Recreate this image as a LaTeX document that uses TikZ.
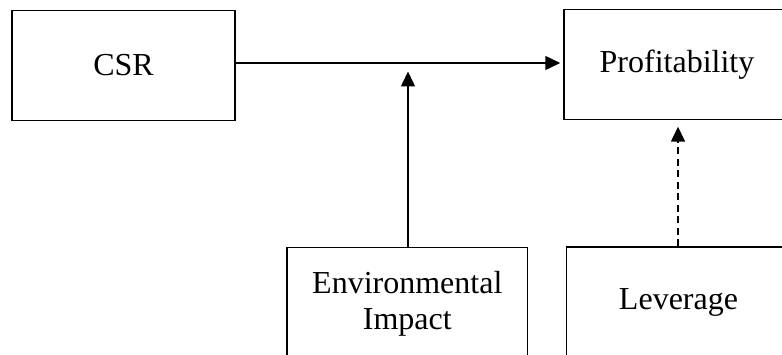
\documentclass[tikz,border=0pt]{standalone}
\usepackage{fontspec}
\setmainfont{Liberation Serif}
\usetikzlibrary{arrows.meta}
\tikzset{
  box/.style={draw, line width=1.5pt, rectangle, minimum width=#1, minimum height=110pt, inner sep=0pt, align=center, font=\fontsize{32}{36}\selectfont},
  conn/.style={line width=1.5pt, -{Triangle[length=15pt,width=14pt]}},
  dashconn/.style={conn, dash pattern=on 7pt off 4.5pt}
}
\begin{document}
\begin{tikzpicture}[x=1pt,y=-1pt]
\useasboundingbox (0,0) rectangle (782,355);
\clip (0,0) rectangle (782,355);
\node[box=223pt] (csr) at (123.5,65.5) {CSR};
\node[box=226pt] (prof) at (677,64.5) {Profitability};
\node[box=240.5pt, minimum height=112pt] (env) at (407.3,303.7) {Environmental\\Impact};
\node[box=224pt] (lev) at (678.5,302) {Leverage};
\coordinate (mid) at (408,71.5);
\coordinate (levtip) at (678,126.7);
\draw[conn, shorten >=3pt] (csr.east |- 0,63) -- (prof.west |- 0,63);
\draw[conn] (env.north -| mid) -- (mid);
\draw[dashconn] (lev.north -| levtip) -- (levtip);
\end{tikzpicture}
\end{document}
